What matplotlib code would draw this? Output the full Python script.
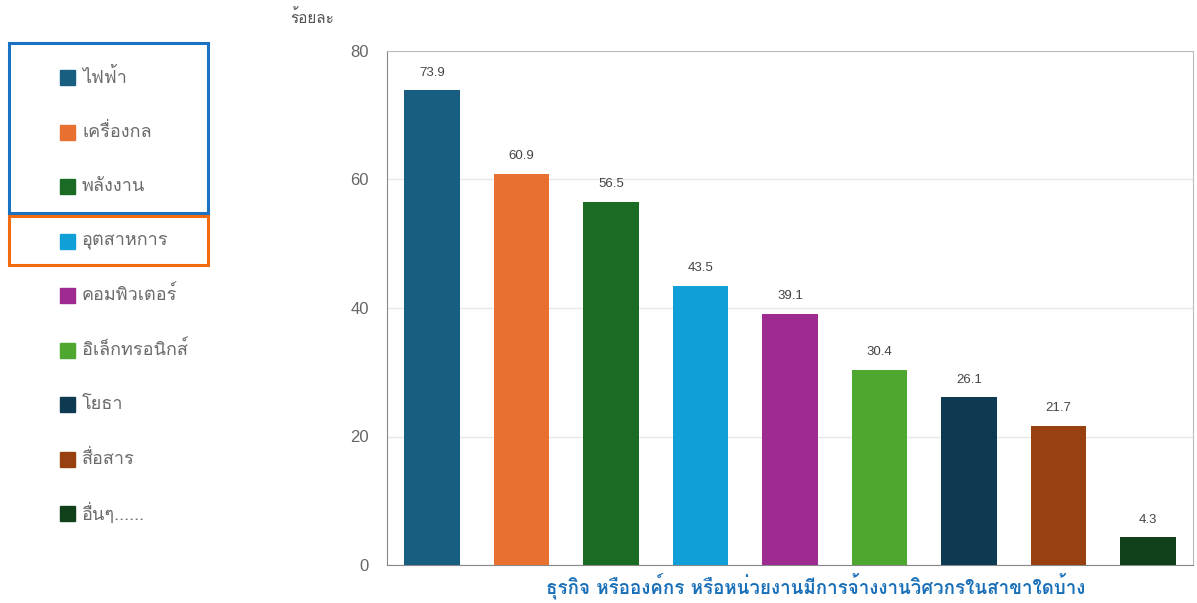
import matplotlib
matplotlib.use("Agg")
import matplotlib.pyplot as plt
from matplotlib import font_manager
from matplotlib.ft2font import FT2Font
from matplotlib.patches import Rectangle

# data
branches = ["ไฟฟ้า", "เครื่องกล", "พลังงาน", "อุตสาหการ", "คอมพิวเตอร์",
            "อิเล็กทรอนิกส์", "โยธา", "สื่อสาร", "อื่นๆ......"]
percent = [73.9, 60.9, 56.5, 43.5, 39.1, 30.4, 26.1, 21.7, 4.3]
colors = ["#175e80", "#e87131", "#1a6b24", "#119fd7", "#9e2b8f",
          "#4ea72e", "#0e3a51", "#98400f", "#10401a"]
yticks = [0, 20, 40, 60, 80]
xlabel = "ธุรกิจ หรือองค์กร หรือหน่วยงานมีการจ้างงานวิศวกรในสาขาใดบ้าง"
ylabel = "ร้อยละ"

# look for any installed font that has Thai glyphs
thai_fonts = []
for f in font_manager.fontManager.ttflist:
    try:
        if 0x0E01 in FT2Font(f.fname).get_charmap():
            if f.name not in thai_fonts:
                thai_fonts.append(f.name)
    except Exception:
        pass
plt.rcParams['font.family'] = thai_fonts + ['DejaVu Sans']
num_font = 'Liberation Sans'

W, H = 1197, 603
fig = plt.figure(figsize=(W / 100, H / 100), dpi=100)
ax = fig.add_axes([387 / W, 1 - 565 / H, 806 / W, 514 / H])

x = range(len(percent))
ax.bar(x, percent, width=0.62, color=colors, zorder=3)
for i, v in enumerate(percent):
    ax.text(i, v + 1.8, f"{v}", ha='center', va='bottom', fontsize=9.5,
            color='#444444', family=num_font)

ax.set_xlim(-0.5, 8.5)
ax.set_ylim(0, 80)
ax.set_yticks(yticks)
ax.set_yticklabels([str(t) for t in yticks], family=num_font, fontsize=12, color='#666666')
ax.tick_params(axis='y', length=0, pad=13)
ax.set_xticks([])
ax.grid(axis='y', color='#e8e8e8', lw=1, zorder=0)
for s in ax.spines.values():
    s.set_color('#bbbbbb')
ax.spines['left'].set_color('#888888')
ax.spines['bottom'].set_color('#888888')

fig.text(816 / W, 1 - 586 / H, xlabel, fontsize=13.5, fontweight='bold',
         color='#1a70b8', ha='center', va='center')
fig.text(290 / W, 1 - 18 / H, ylabel, fontsize=11, color='#555555', va='center')

# legend drawn by hand, with the two highlight boxes
for i, (name, c) in enumerate(zip(branches, colors)):
    yc = 77 + i * 54.5
    fig.patches.append(Rectangle((60 / W, 1 - (yc + 8) / H), 15 / W, 15 / H,
                                 transform=fig.transFigure, color=c))
    fig.text(82 / W, 1 - yc / H, name, fontsize=13, color='#6b6b6b', va='center')

fig.patches.append(Rectangle((9 / W, 1 - 213 / H), 199 / W, 170 / H, transform=fig.transFigure,
                             fill=False, edgecolor='#1a73c2', lw=2.2))
fig.patches.append(Rectangle((9 / W, 1 - 265 / H), 199 / W, 49 / H, transform=fig.transFigure,
                             fill=False, edgecolor='#f26b10', lw=2.2))

fig.savefig("out.png", dpi=100)
